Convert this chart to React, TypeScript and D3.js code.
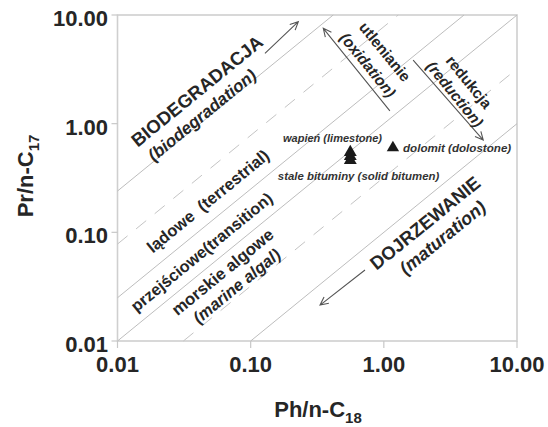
import React from "react";
import * as d3 from "d3";

const W = 548;
const H = 427;

const tickValues = [0.01, 0.1, 1, 10];
const tickLabels = ["0.01", "0.10", "1.00", "10.00"];

// boundary lines y = k * x
const solidRatios = [24, 2.5, 1, 0.1];
const dashedRatios = [7.8, 0.32];

// samples
const limestoneX = [0.56, 0.56, 0.56];
const limestoneY = [0.545, 0.5, 0.46];
const dolomiteX = [1.17];
const dolomiteY = [0.6];

// field / process labels rotated along (or across) the lines [text, x, y, size, italic, across]
const zoneLabels: [string, number, number, number, boolean, boolean][] = [
  ["BIODEGRADACJA", 0.0395, 2.0, 18.5, false, false],
  ["(biodegradation)", 0.0431, 1.2, 17, true, false],
  ["lądowe  (terrestrial)", 0.0478, 0.194, 16.5, false, false],
  ["przejściowe(transition)", 0.0428, 0.0659, 16.3, false, false],
  ["morskie algowe", 0.0614, 0.0432, 16.8, false, false],
  ["(marine algal)", 0.0785, 0.0321, 16.5, true, false],
  ["utlenianie", 1.02, 4.59, 15.3, false, true],
  ["(oxidation)", 0.76, 3.47, 15.3, true, true],
  ["redukcja", 4.36, 2.42, 15.3, false, true],
  ["(reduction)", 3.42, 1.87, 15.3, true, true],
  ["DOJRZEWANIE", 2.04, 0.122, 18.5, false, false],
  ["(maturation)", 2.76, 0.0896, 18, true, false],
];

// sample labels [text, x, y, size]
const pointLabels: [string, number, number, number][] = [
  ["wapień (limestone)", 0.175, 0.678, 11],
  ["dolomit (dolostone)", 1.393, 0.548, 11.6],
  ["stale bituminy (solid bitumen)", 0.16, 0.303, 11.4],
];

// arrows [x1, y1, x2, y2]
const arrows: [number, number, number, number][] = [
  [0.128, 4.44, 0.228, 8.68],
  [1.11, 1.31, 0.351, 7.54],
  [1.66, 3.85, 5.58, 0.707],
  [0.722, 0.045, 0.332, 0.0214],
];

const FONT = "'Liberation Sans', Arial, Helvetica, sans-serif";
const TXT = "#262626";

export default function App() {
  const x = d3.scaleLog().domain([0.01, 10]).range([117.5, 517]);
  const y = d3.scaleLog().domain([0.01, 10]).range([341, 15]);
  const [x0, x1] = x.range();
  const [y0, y1] = y.range();

  const angle = (-Math.atan((y0 - y1) / (x1 - x0)) * 180) / Math.PI; // ~ -39.2
  const lineGen = d3.line<[number, number]>().x((d) => x(d[0])).y((d) => y(d[1]));

  const seg = (k: number): [number, number][] => {
    const xa = Math.max(0.01, 0.01 / k);
    const xb = Math.min(10, 10 / k);
    return [
      [xa, k * xa],
      [xb, k * xb],
    ];
  };

  const tri = d3.symbol().type(d3.symbolTriangle).size(66)();
  const triL = d3.symbol().type(d3.symbolTriangle).size(72)();

  const arrowHead = (ax: number, ay: number, bx: number, by: number) => {
    const px1 = x(ax), py1 = y(ay), px2 = x(bx), py2 = y(by);
    const a = Math.atan2(py2 - py1, px2 - px1);
    const L = 9, spread = 0.45;
    const l1 = [px2 - L * Math.cos(a - spread), py2 - L * Math.sin(a - spread)];
    const l2 = [px2 - L * Math.cos(a + spread), py2 - L * Math.sin(a + spread)];
    return `M${px1},${py1}L${px2},${py2}M${l1[0]},${l1[1]}L${px2},${py2}L${l2[0]},${l2[1]}`;
  };

  return (
    <svg
      width={W}
      height={H}
      style={{ position: "absolute", left: 0, top: 0, background: "#fff" }}
      fontFamily={FONT}
    >
      <rect x={0} y={0} width={W} height={H} fill="#fff" />
      {/* frame */}
      <rect
        x={x0}
        y={y1}
        width={x1 - x0}
        height={y0 - y1}
        fill="none"
        stroke="#cfcfcf"
        strokeWidth={1.6}
      />
      {/* ticks */}
      {tickValues.map((v, i) => (
        <g key={"t" + i}>
          <line x1={x(v)} x2={x(v)} y1={y0} y2={y0 + 7} stroke="#c8c8c8" strokeWidth={1.2} />
          <line x1={x0 - 6} x2={x0} y1={y(v)} y2={y(v)} stroke="#c8c8c8" strokeWidth={1.2} />
          <text x={x(v)} y={372} textAnchor="middle" fontSize={22} fontWeight="bold" fill={TXT}>
            {tickLabels[i]}
          </text>
          <text
            x={108}
            y={y(v) + 3}
            dy="0.36em"
            textAnchor="end"
            fontSize={22}
            fontWeight="bold"
            fill={TXT}
          >
            {tickLabels[i]}
          </text>
        </g>
      ))}
      {/* boundary lines */}
      {solidRatios.map((k, i) => (
        <path key={"s" + i} d={lineGen(seg(k)) || ""} stroke="#bdbdbd" strokeWidth={1} fill="none" />
      ))}
      {dashedRatios.map((k, i) => (
        <path
          key={"d" + i}
          d={lineGen(seg(k)) || ""}
          stroke="#c4c4c4"
          strokeWidth={1}
          strokeDasharray="13,11"
          fill="none"
        />
      ))}
      {/* arrows */}
      {arrows.map((a, i) => (
        <path key={"a" + i} d={arrowHead(a[0], a[1], a[2], a[3])} stroke="#555" strokeWidth={1.1} fill="none" />
      ))}
      {/* zone labels */}
      {zoneLabels.map(([t, vx, vy, fs, it, across], i) => (
        <text
          key={"z" + i}
          transform={`translate(${x(vx)},${y(vy)}) rotate(${across ? angle + 90 : angle})`}
          textAnchor="middle"
          dy="0.35em"
          fontSize={fs}
          fontWeight="bold"
          fontStyle={it ? "italic" : "normal"}
          fill={TXT}
          style={{ whiteSpace: "pre" }}
        >
          {t}
        </text>
      ))}
      {/* points */}
      {limestoneX.map((v, i) => (
        <path key={"l" + i} d={triL || ""} transform={`translate(${x(v)},${y(limestoneY[i])})`} fill="#1a1a1a" />
      ))}
      {dolomiteX.map((v, i) => (
        <path key={"o" + i} d={tri || ""} transform={`translate(${x(v)},${y(dolomiteY[i])})`} fill="#1a1a1a" />
      ))}
      {pointLabels.map(([t, vx, vy, fs], i) => (
        <text key={"p" + i} x={x(vx)} y={y(vy)} fontSize={fs} fontWeight="bold" fontStyle="italic" fill="#333">
          {t}
        </text>
      ))}
      {/* axis titles */}
      <text x={318} y={417} textAnchor="middle" fontSize={22} fontWeight="bold" fill={TXT}>
        Ph/n-C
        <tspan fontSize={15} dy={6}>18</tspan>
      </text>
      <text
        transform={`translate(33,176) rotate(-90)`}
        textAnchor="middle"
        fontSize={22}
        fontWeight="bold"
        fill={TXT}
      >
        Pr/n-C
        <tspan fontSize={15} dy={6}>17</tspan>
      </text>
    </svg>
  );
}
